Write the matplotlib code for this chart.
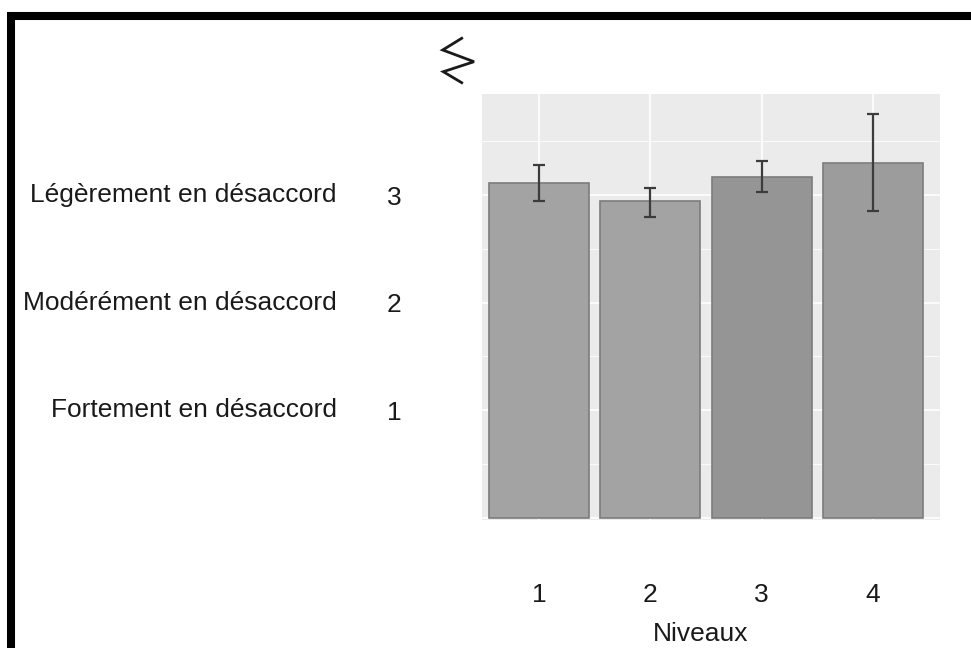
import matplotlib.pyplot as plt
from matplotlib.patches import Rectangle
from matplotlib.lines import Line2D
import numpy as np

plt.rcParams['font.family'] = ['Liberation Sans', 'DejaVu Sans']

# Data
niveaux = [1, 2, 3, 4]
moyennes = [3.11, 2.94, 3.17, 3.30]
err_bas = [0.17, 0.14, 0.14, 0.45]
err_haut = [0.17, 0.13, 0.15, 0.45]
couleurs = ['#a3a3a3', '#a3a3a3', '#959595', '#9c9c9c']
y_ticks = [1, 2, 3]
y_labels = ['Fortement en désaccord', 'Modérément en désaccord', 'Légèrement en désaccord']

W, H = 971, 648
fig = plt.figure(figsize=(W / 100, H / 100), dpi=100)
ax = fig.add_axes([482 / W, 1 - 520 / H, (940 - 482) / W, (520 - 94) / H])

ax.set_facecolor('#ebebeb')
ax.bar(niveaux, moyennes, width=0.9, color=couleurs, edgecolor='#7c7c7c',
       linewidth=1.2, zorder=3)
ax.errorbar(niveaux, moyennes, yerr=[err_bas, err_haut], fmt='none',
            ecolor='#3c3c3c', elinewidth=1.6, capsize=4.3, capthick=1.6, zorder=4)

ax.set_xlim(0.49, 4.6)
ax.set_ylim(-0.023, 3.94)

# grid like ggplot
ax.set_xticks(niveaux)
ax.set_xticklabels([str(n) for n in niveaux])
ax.set_yticks([0] + y_ticks)
ax.set_yticklabels([''] + [str(t) for t in y_ticks])
ax.set_yticks(np.arange(0.5, 4, 1.0), minor=True)
ax.grid(True, which='major', color='white', linewidth=1.2, zorder=0)
ax.grid(True, which='minor', axis='y', color='white', linewidth=0.6, zorder=0)
ax.set_axisbelow(True)
for s in ax.spines.values():
    s.set_visible(False)
ax.tick_params(axis='both', which='both', length=0)
ax.tick_params(axis='x', pad=45, labelsize=19, labelcolor='#1a1a1a')
ax.tick_params(axis='y', pad=58, labelsize=19, labelcolor='#1a1a1a')

for t, lab in zip(y_ticks, y_labels):
    ax.text(-0.317, t, lab, transform=ax.get_yaxis_transform(), ha='right',
            va='center', fontsize=19, color='#1a1a1a')

ax.set_xlabel('Niveaux', fontsize=19, color='#1a1a1a')
ax.xaxis.set_label_coords(0.478, -0.24)

# axis-break zigzag
zx = np.array([461.7, 442.7, 474.0, 443.3, 461.7])
zy = np.array([38.3, 50.0, 61.7, 71.7, 82.7])
fig.add_artist(Line2D(zx / W, 1 - zy / H, transform=fig.transFigure,
                      color='#1a1a1a', linewidth=2.0, solid_joinstyle='miter'))

# black frame
fig.add_artist(Rectangle((11 / W, -0.1), 1.2, 1 - 16 / H + 0.1,
                         transform=fig.transFigure, fill=False,
                         edgecolor='black', linewidth=5.8))

fig.savefig('out.png', dpi=100)
